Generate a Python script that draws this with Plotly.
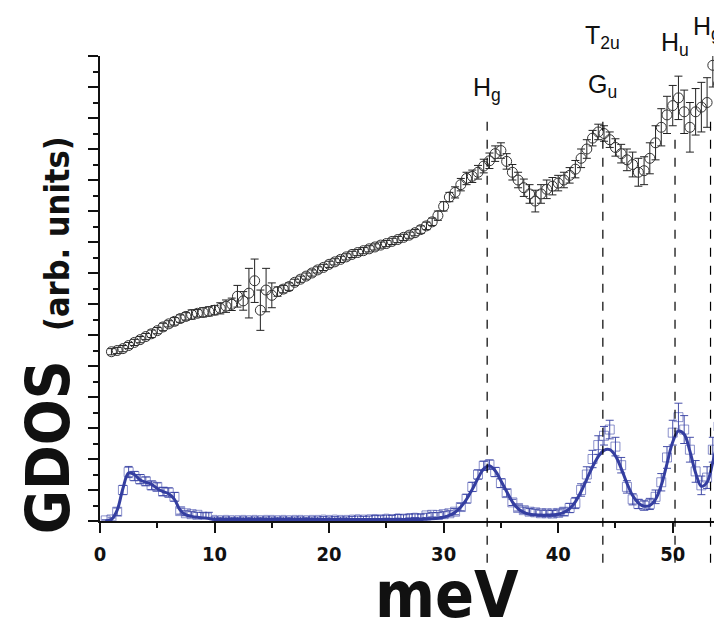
import numpy as np
import plotly.graph_objects as go

# ---------------- data ----------------
# black open circles: GDOS (upper curve), energies in meV
black_x = np.arange(1.0, 54.75, 0.5)
black_y = [5.46, 5.50, 5.56, 5.66, 5.76, 5.85, 5.95, 6.04, 6.14, 6.26, 6.36, 6.44,
           6.53, 6.60, 6.66, 6.70, 6.73, 6.76, 6.80, 6.86, 6.93, 6.99,
           7.25, 7.10, 7.35, 7.75, 6.80, 7.45, 7.28,
           7.40, 7.48, 7.56, 7.70, 7.80, 7.90, 8.00, 8.10, 8.18, 8.28, 8.36, 8.44,
           8.52, 8.60, 8.66, 8.72, 8.78, 8.84, 8.90, 8.95, 9.02, 9.08, 9.15, 9.22,
           9.30, 9.40, 9.52, 9.65, 9.85, 10.15,
           10.45, 10.60, 10.85, 11.05, 11.12, 11.25, 11.45, 11.62, 11.85, 11.95,
           11.60, 11.25, 11.00, 10.75, 10.55, 10.32, 10.55, 10.70, 10.80, 10.90,
           11.00, 11.15, 11.35, 11.70, 12.00, 12.35, 12.55, 12.50, 12.30, 12.05,
           11.85, 11.65, 11.50, 11.25, 11.30,
           11.70, 12.20, 12.70, 13.10, 13.40, 13.65, 13.20, 12.70, 13.20, 13.35,
           13.50, 14.70, 14.10, 13.40]
black_err = [0.10, 0.10, 0.10, 0.10, 0.10, 0.10, 0.10, 0.12, 0.10, 0.12, 0.10, 0.12,
             0.12, 0.12, 0.15, 0.12, 0.15, 0.15, 0.15, 0.18, 0.20, 0.20,
             0.35, 0.30, 0.80, 0.70, 0.65, 0.70, 0.40,
             0.15, 0.12, 0.12, 0.10, 0.10, 0.10, 0.10, 0.10, 0.10, 0.10, 0.10, 0.10,
             0.10, 0.10, 0.10, 0.10, 0.10, 0.10, 0.10, 0.10, 0.10, 0.10, 0.10, 0.10,
             0.10, 0.12, 0.12, 0.12, 0.15, 0.15,
             0.15, 0.18, 0.20, 0.20, 0.20, 0.22, 0.22, 0.25, 0.25, 0.25,
             0.25, 0.25, 0.25, 0.28, 0.30, 0.35, 0.30, 0.30, 0.28, 0.25,
             0.25, 0.25, 0.28, 0.30, 0.30, 0.25, 0.25, 0.25, 0.25, 0.28,
             0.30, 0.35, 0.40, 0.45, 0.45,
             0.50, 0.55, 0.60, 0.60, 0.65, 0.70, 0.70, 0.80, 0.75, 0.80,
             0.80, 0.70, 0.80, 0.75]

# blue open squares: lower GDOS curve
blue_x = np.arange(0.5, 54.75, 0.5)
blue_y = [0.02, 0.05, 0.30, 1.00, 1.58, 1.45, 1.35, 1.28, 1.15, 1.10, 0.95, 0.92,
          0.78, 0.32, 0.25, 0.22, 0.20, 0.18, 0.18,
          0.10, 0.09, 0.10, 0.09, 0.09, 0.10, 0.09, 0.10, 0.09, 0.10, 0.10, 0.09,
          0.10, 0.09, 0.10, 0.10, 0.09, 0.10, 0.10, 0.11, 0.10, 0.11, 0.10, 0.10,
          0.11, 0.12, 0.11, 0.12, 0.13, 0.12, 0.14, 0.13, 0.15, 0.14, 0.16, 0.17,
          0.16,
          0.18, 0.20, 0.19, 0.22, 0.25, 0.30, 0.45, 0.72, 1.10, 1.50, 1.78, 1.82,
          1.58, 1.22, 0.90, 0.60, 0.42, 0.35, 0.30, 0.28, 0.25, 0.25, 0.24, 0.26,
          0.30, 0.42, 0.58, 1.00, 1.50, 2.00, 2.45, 2.75, 2.95, 2.40, 1.80, 1.10,
          0.70, 0.55, 0.50, 0.55, 0.78, 1.25, 2.05, 2.85, 3.35, 2.95, 2.30, 1.60,
          1.15, 1.40, 2.30, 3.05, 3.75]
blue_err = [0.02, 0.05, 0.12, 0.15, 0.18, 0.15, 0.15, 0.14, 0.14, 0.13, 0.13, 0.15,
            0.14, 0.10, 0.08, 0.08, 0.08, 0.10, 0.10,
            0.03, 0.03, 0.03, 0.03, 0.03, 0.03, 0.03, 0.03, 0.03, 0.03, 0.03, 0.03,
            0.03, 0.03, 0.03, 0.03, 0.03, 0.03, 0.03, 0.03, 0.03, 0.03, 0.03, 0.03,
            0.04, 0.04, 0.04, 0.04, 0.05, 0.05, 0.05, 0.05, 0.06, 0.06, 0.06, 0.06,
            0.06,
            0.07, 0.07, 0.08, 0.08, 0.08, 0.10, 0.12, 0.14, 0.15, 0.15, 0.15, 0.15,
            0.15, 0.14, 0.12, 0.10, 0.10, 0.10, 0.10, 0.10, 0.10, 0.10, 0.10, 0.10,
            0.12, 0.15, 0.18, 0.20, 0.25, 0.28, 0.30, 0.30, 0.30, 0.30, 0.25, 0.20,
            0.18, 0.15, 0.15, 0.18, 0.22, 0.28, 0.35, 0.40, 0.45, 0.45, 0.40, 0.35,
            0.30, 0.35, 0.40, 0.45, 0.50]
# thick blue fit line
fit_y = [0.00, 0.05, 0.35, 1.05, 1.55, 1.50, 1.32, 1.25, 1.18, 1.05, 0.95, 0.88,
         0.70, 0.35, 0.20, 0.15, 0.12, 0.10, 0.08,
         0.05, 0.05, 0.05, 0.05, 0.05, 0.05, 0.05, 0.05, 0.05, 0.05, 0.05, 0.05,
         0.05, 0.05, 0.05, 0.05, 0.05, 0.05, 0.05, 0.05, 0.05, 0.05, 0.05, 0.05,
         0.05, 0.05, 0.05, 0.05, 0.05, 0.05, 0.05, 0.05, 0.05, 0.05, 0.05, 0.05,
         0.05,
         0.06, 0.07, 0.09, 0.12, 0.18, 0.28, 0.45, 0.70, 1.02, 1.38, 1.68, 1.78,
         1.62, 1.30, 0.95, 0.62, 0.40, 0.28, 0.22, 0.20, 0.19, 0.19, 0.20, 0.22,
         0.28, 0.40, 0.62, 0.95, 1.35, 1.75, 2.08, 2.28, 2.30, 2.10, 1.70, 1.22,
         0.82, 0.58, 0.48, 0.50, 0.70, 1.15, 1.85, 2.55, 2.90, 2.80, 2.25, 1.55,
         1.12, 1.25, 1.90, 2.60, 3.00]

# vibrational mode markers
mode_x = [33.8, 43.9, 50.2, 53.3]
mode_top = [0.872, 0.874, 0.827, 0.874]          # paper fraction of dashed-line top
mode_labels = [["H<sub>g</sub>"], ["T<sub>2u</sub>", "G<sub>u</sub>"],
               ["H<sub>u</sub>"], ["H<sub>g</sub>"]]
mode_label_y = [[0.93], [1.04, 0.935], [1.025], [1.06]]
mode_label_dx = [[0], [0], [0], [-4]]

x_ticks = [0, 10, 20, 30, 40, 50]

# ---------------- figure ----------------
BLUE = "rgb(52,62,160)"
fig = go.Figure()

blue_sizes = [5 if 8.5 < v < 28.5 else 9 for v in blue_x]
fig.add_trace(go.Scatter(
    x=blue_x, y=blue_y, mode="markers",
    marker=dict(symbol="square-open", size=blue_sizes, color="rgba(60,70,170,0.85)",
                line=dict(width=1)),
    error_y=dict(type="data", array=blue_err, color="rgba(50,60,160,0.9)",
                 thickness=1, width=4),
    showlegend=False, hoverinfo="skip"))
fig.add_trace(go.Scatter(
    x=blue_x, y=fit_y, mode="lines",
    line=dict(color=BLUE, width=3, shape="spline"),
    showlegend=False, hoverinfo="skip"))
fig.add_trace(go.Scatter(
    x=black_x, y=black_y, mode="markers",
    marker=dict(symbol="circle-open", size=10, color="#333333", line=dict(width=1)),
    error_y=dict(type="data", array=black_err, color="#222222", thickness=1, width=4),
    showlegend=False, hoverinfo="skip"))

for xv, top in zip(mode_x, mode_top):
    fig.add_shape(type="line", xref="x", yref="paper", x0=xv, x1=xv, y0=-0.09, y1=top,
                  line=dict(color="black", width=1.2, dash="dash"))

for xv, labs, ys, dxs in zip(mode_x, mode_labels, mode_label_y, mode_label_dx):
    for lab, yv, dx in zip(labs, ys, dxs * len(labs)):
        fig.add_annotation(x=xv, xref="x", y=yv, yref="paper", text=lab,
                           showarrow=False, xanchor="center", yanchor="middle",
                           xshift=dx,
                           font=dict(family="Liberation Sans, Arial", size=25,
                                     color="#111"))

NARROW = "Liberation Sans Narrow, Arial Narrow, DejaVu Sans Condensed, Liberation Sans"
fig.add_annotation(text="<b>meV</b>", xref="paper", yref="paper", x=0.55, y=-0.243,
                   showarrow=False, xanchor="center", yanchor="bottom",
                   font=dict(family=NARROW, size=64, color="#111"))
fig.add_annotation(text="<b>GDOS <span style='font-size:34px'> (arb. units)</span></b>",
                   xref="paper", yref="paper", x=-0.082, y=0.40, textangle=-90,
                   showarrow=False, xanchor="center", yanchor="middle",
                   font=dict(family=NARROW, size=60, color="#111"))

fig.update_layout(
    width=722, height=628,
    margin=dict(l=92, r=0, t=48, b=115),
    paper_bgcolor="white", plot_bgcolor="white",
    xaxis=dict(range=[0, 55], tickvals=x_ticks, ticktext=[f"<b>{v}</b>" for v in x_ticks],
               showline=True, linecolor="#111",
               linewidth=2, ticks="outside", ticklen=10, tickwidth=2, tickcolor="#111",
               showgrid=False, zeroline=False,
               minor=dict(dtick=5, ticks="outside", ticklen=5, tickwidth=2,
                          tickcolor="#111", showgrid=False),
               tickfont=dict(family=NARROW, size=20, color="#111"),
               ticklabelstandoff=4),
    yaxis=dict(range=[0, 15], dtick=1, showticklabels=False, showline=True,
               linecolor="#111", linewidth=2, ticks="outside", ticklen=10,
               tickwidth=2, tickcolor="#111", showgrid=False, zeroline=False,
               minor=dict(dtick=0.5, ticks="outside", ticklen=5, tickwidth=2,
                          tickcolor="#111", showgrid=False)),
)

fig.write_html("out.html")
